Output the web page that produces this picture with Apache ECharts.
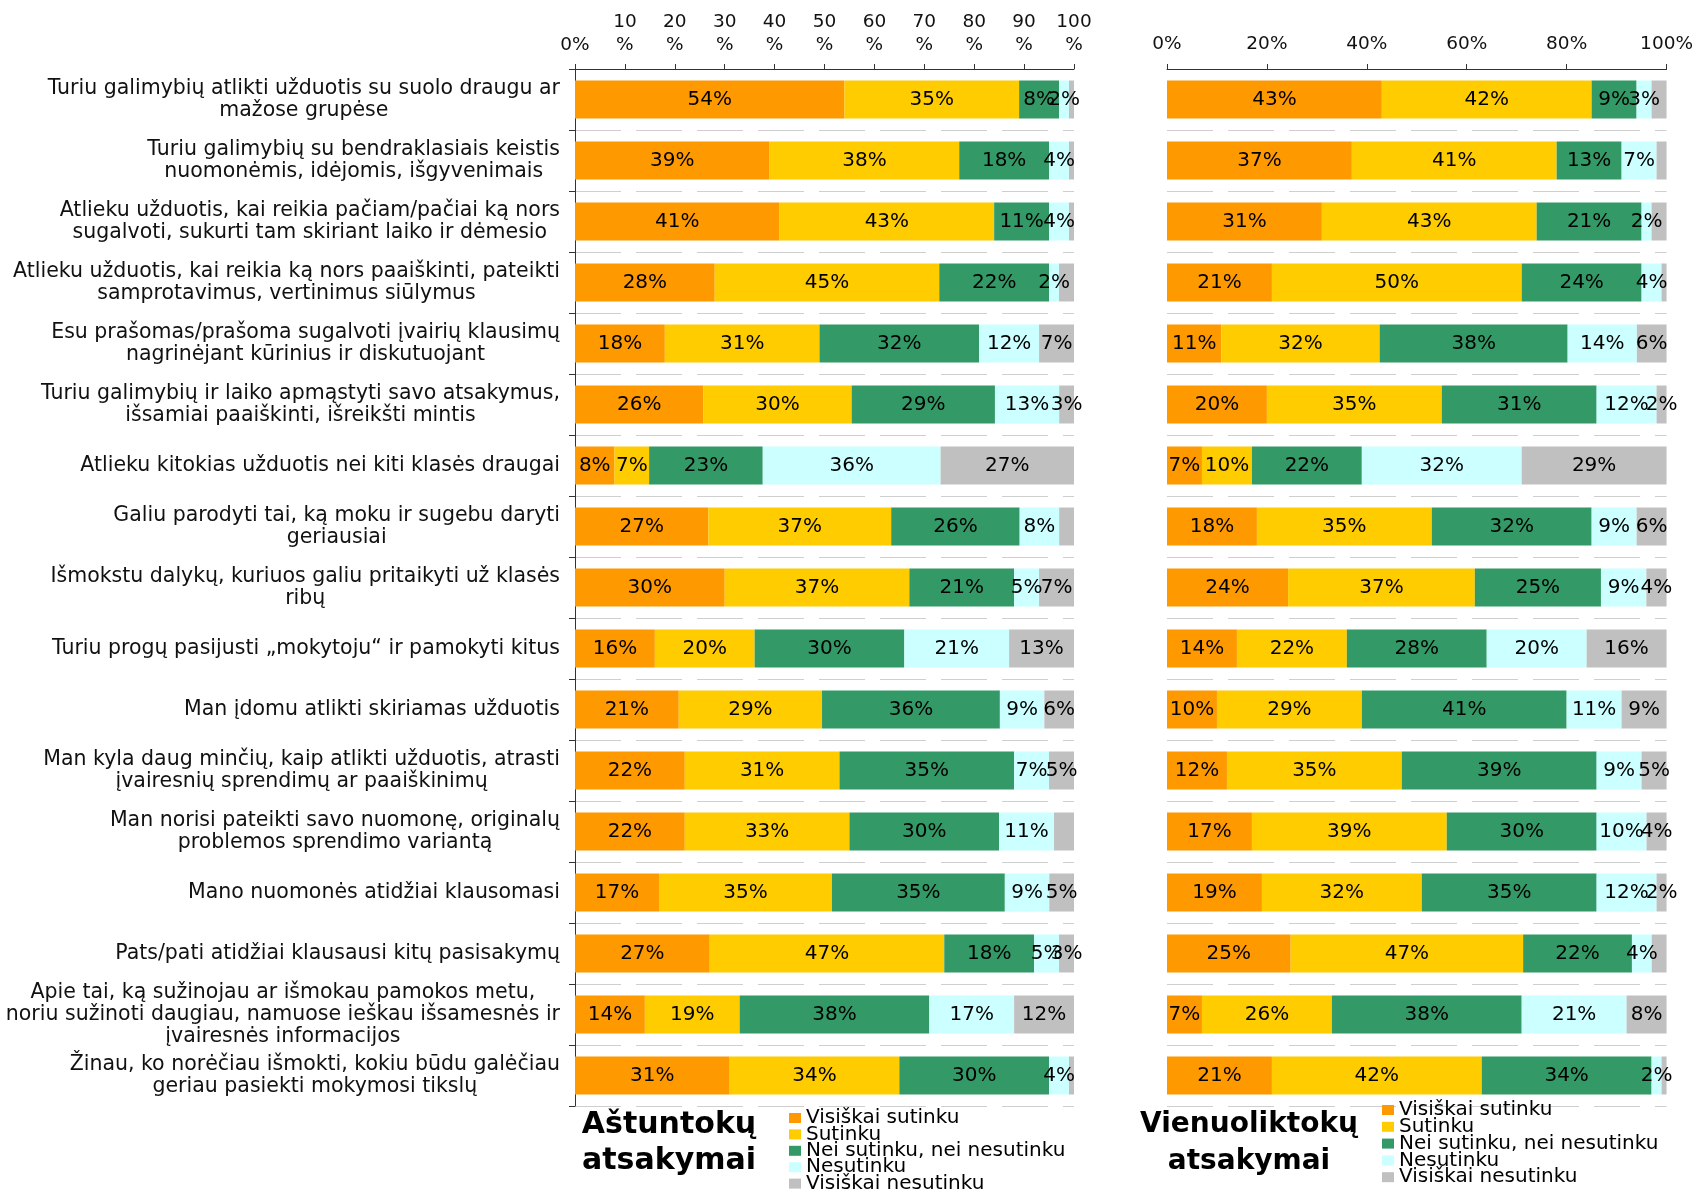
<!DOCTYPE html>
<html>
<head>
<meta charset="utf-8">
<script src="https://cdn.jsdelivr.net/npm/echarts@6/dist/echarts.min.js"></script>
<style>
  html, body { margin: 0; padding: 0; background: #fff; }
  #chart { width: 1696px; height: 1191px; }
</style>
</head>
<body>
<div id="chart"></div>
<script>
// teiginiai (kategorijos)
var categories = [
  'Turiu galimybių atlikti užduotis su suolo draugu ar\nmažose grupėse',
  'Turiu galimybių su bendraklasiais keistis\nnuomonėmis, idėjomis, išgyvenimais',
  'Atlieku užduotis, kai reikia pačiam/pačiai ką nors\nsugalvoti, sukurti tam skiriant laiko ir dėmesio',
  'Atlieku užduotis, kai reikia ką nors paaiškinti, pateikti\nsamprotavimus, vertinimus siūlymus',
  'Esu prašomas/prašoma sugalvoti įvairių klausimų\nnagrinėjant kūrinius ir diskutuojant',
  'Turiu galimybių ir laiko apmąstyti savo atsakymus,\nišsamiai paaiškinti, išreikšti mintis',
  'Atlieku kitokias užduotis nei kiti klasės draugai',
  'Galiu parodyti tai, ką moku ir sugebu daryti\ngeriausiai',
  'Išmokstu dalykų, kuriuos galiu pritaikyti už klasės\nribų',
  'Turiu progų pasijusti „mokytoju“ ir pamokyti kitus',
  'Man įdomu atlikti skiriamas užduotis',
  'Man kyla daug minčių, kaip atlikti užduotis, atrasti\nįvairesnių sprendimų ar paaiškinimų',
  'Man norisi pateikti savo nuomonę, originalų\nproblemos sprendimo variantą',
  'Mano nuomonės atidžiai klausomasi',
  'Pats/pati atidžiai klausausi kitų pasisakymų',
  'Apie tai, ką sužinojau ar išmokau pamokos metu,\nnoriu sužinoti daugiau, namuose ieškau išsamesnės ir\nįvairesnės informacijos',
  'Žinau, ko norėčiau išmokti, kokiu būdu galėčiau\ngeriau pasiekti mokymosi tikslų'
];

var seriesNames = ['Visiškai sutinku', 'Sutinku', 'Nei sutinku, nei nesutinku', 'Nesutinku', 'Visiškai nesutinku'];
var colors = ['#FF9900', '#FFCC00', '#339966', '#CCFFFF', '#C0C0C0'];

// Aštuntokai
var v8Full      = [54, 39, 41, 28, 18, 26, 8, 27, 30, 16, 21, 22, 22, 17, 27, 14, 31];
var v8Agree     = [35, 38, 43, 45, 31, 30, 7, 37, 37, 20, 29, 31, 33, 35, 47, 19, 34];
var v8Neutral   = [8, 18, 11, 22, 32, 29, 23, 26, 21, 30, 36, 35, 30, 35, 18, 38, 30];
var v8Disagree  = [2, 4, 4, 2, 12, 13, 36, 8, 5, 21, 9, 7, 11, 9, 5, 17, 4];
var v8FullDis   = [1, 1, 1, 3, 7, 3, 27, 3, 7, 13, 6, 5, 4, 5, 3, 12, 1];

// Vienuoliktokai
var v11Full     = [43, 37, 31, 21, 11, 20, 7, 18, 24, 14, 10, 12, 17, 19, 25, 7, 21];
var v11Agree    = [42, 41, 43, 50, 32, 35, 10, 35, 37, 22, 29, 35, 39, 32, 47, 26, 42];
var v11Neutral  = [9, 13, 21, 24, 38, 31, 22, 32, 25, 28, 41, 39, 30, 35, 22, 38, 34];
var v11Disagree = [3, 7, 2, 4, 14, 12, 32, 9, 9, 20, 11, 9, 10, 12, 4, 21, 2];
var v11FullDis  = [3, 2, 3, 1, 6, 2, 29, 6, 4, 16, 9, 5, 4, 2, 3, 8, 1];

// eilutes, kuriose "Visiškai nesutinku" reiksme neuzrasyta
var hideLast8 = [0, 1, 2, 3, 7, 12, 16];
var hideLast11 = [0, 1, 2, 3, 14, 16];

var ticks8 = [0, 10, 20, 30, 40, 50, 60, 70, 80, 90, 100];
var ticks11 = [0, 20, 40, 60, 80, 100];

var FONT = 'DejaVu Sans';

// 100% stacked: kiekviena eilute perskaiciuojama iki 100
function buildSeries(groups, gridIdx, stack, hideLast) {
  var totals = categories.map(function (c, i) {
    var s = 0;
    groups.forEach(function (g) { s += g[i]; });
    return s;
  });
  return groups.map(function (g, k) {
    return {
      name: seriesNames[k],
      type: 'bar',
      stack: stack,
      xAxisIndex: gridIdx,
      yAxisIndex: gridIdx,
      barWidth: 38,
      itemStyle: { color: colors[k] },
      label: {
        show: true,
        position: 'inside',
        color: '#000',
        fontFamily: FONT,
        fontSize: 20,
        formatter: function (p) { return p.data.raw + '%'; }
      },
      data: g.map(function (v, i) {
        var item = { value: v / totals[i] * 100, raw: v };
        if (k === 4 && hideLast.indexOf(i) >= 0) item.label = { show: false };
        return item;
      })
    };
  });
}

function xAxisCfg(gridIdx, ticks, twoLines, margin) {
  return {
    gridIndex: gridIdx,
    type: 'value',
    position: 'top',
    min: 0,
    max: 100,
    interval: ticks[1] - ticks[0],
    axisLine: { show: true, lineStyle: { color: '#333', width: 1 } },
    axisTick: { show: true, length: 5, lineStyle: { color: '#333' } },
    splitLine: { show: false },
    axisLabel: {
      color: '#111',
      fontFamily: FONT,
      fontSize: 18.5,
      lineHeight: 23,
      margin: margin,
      formatter: function (v) {
        if (twoLines && v !== 0) return v + '\n%';
        return v + '%';
      }
    }
  };
}

function splitLineCfg() {
  return { show: true, lineStyle: { color: '#cfcfcf', width: 1.2, type: [46, 15] } };
}

function legendCfg(left, top, gap) {
  return {
    orient: 'vertical',
    left: left,
    top: top,
    height: 110,
    padding: 0,
    itemGap: gap,
    itemWidth: 12,
    itemHeight: 10,
    icon: 'rect',
    selectedMode: false,
    textStyle: { color: '#000', fontFamily: FONT, fontSize: 20, lineHeight: 16 },
    data: seriesNames
  };
}

var option = {
  animation: false,
  backgroundColor: '#fff',
  textStyle: { fontFamily: FONT },
  grid: [
    { left: 575, right: 622, top: 69, height: 1037 },
    { left: 1167, right: 29, top: 69, height: 1037 }
  ],
  xAxis: [
    xAxisCfg(0, ticks8, true, 12),
    xAxisCfg(1, ticks11, false, 13)
  ],
  yAxis: [
    {
      gridIndex: 0,
      type: 'category',
      inverse: true,
      data: categories,
      axisLine: { show: true, lineStyle: { color: '#333' } },
      axisTick: { show: true, length: 6, lineStyle: { color: '#333' } },
      splitLine: splitLineCfg(),
      axisLabel: {
        margin: 15,
        color: '#111',
        fontFamily: FONT,
        fontSize: 20.5,
        lineHeight: 22,
        formatter: function (v) {
          return v.split('\n').map(function (l) { return '{c|' + l + '}'; }).join('\n');
        },
        rich: {
          c: { align: 'center', fontFamily: FONT, fontSize: 20.5, lineHeight: 22, color: '#111' }
        }
      }
    },
    {
      gridIndex: 1,
      type: 'category',
      inverse: true,
      data: categories,
      axisLine: { show: false },
      axisTick: { show: false },
      axisLabel: { show: false },
      splitLine: splitLineCfg()
    }
  ],
  legend: [
    legendCfg(789, 1108, -3.6),
    legendCfg(1382, 1100, -3.2)
  ],
  title: [
    {
      text: 'Aštuntokų\natsakymai',
      left: 669,
      top: 1107,
      textAlign: 'center',
      padding: 0,
      textStyle: { fontFamily: FONT, fontWeight: 'bold', fontSize: 30, lineHeight: 36, color: '#000' }
    },
    {
      text: 'Vienuoliktokų\natsakymai',
      left: 1249,
      top: 1106,
      textAlign: 'center',
      padding: 0,
      textStyle: { fontFamily: FONT, fontWeight: 'bold', fontSize: 28, lineHeight: 37, color: '#000' }
    }
  ],
  series: buildSeries([v8Full, v8Agree, v8Neutral, v8Disagree, v8FullDis], 0, 'g8', hideLast8)
    .concat(buildSeries([v11Full, v11Agree, v11Neutral, v11Disagree, v11FullDis], 1, 'g11', hideLast11))
};

var myChart = echarts.init(document.getElementById('chart'));
myChart.setOption(option);
</script>
</body>
</html>
